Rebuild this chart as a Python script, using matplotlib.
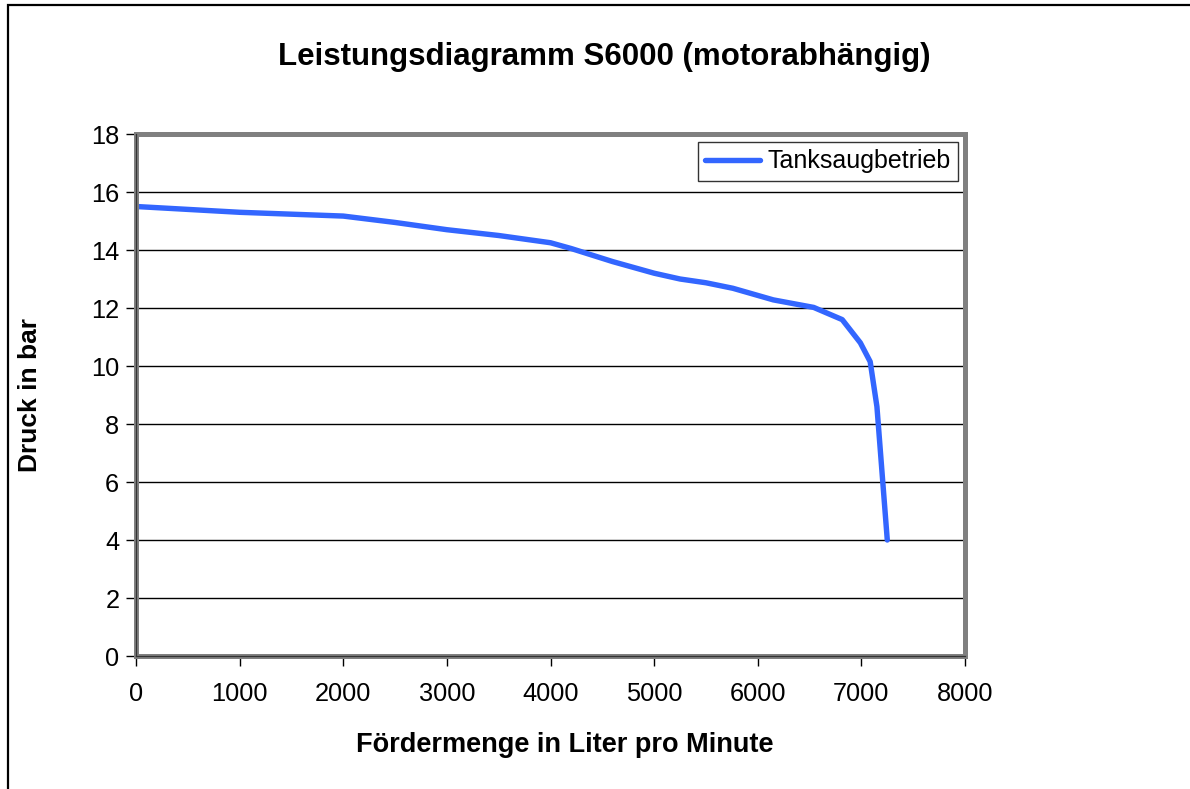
import matplotlib
matplotlib.use("Agg")
import matplotlib.pyplot as plt
from matplotlib.patches import Rectangle

plt.rcParams['font.family'] = ['Liberation Sans', 'DejaVu Sans']

# data
flow = [0, 1000, 2000, 2500, 3000, 3500, 4000, 4200, 4600, 5000, 5250, 5500,
        5760, 6150, 6540, 6815, 6990, 7085, 7150, 7250]
pressure = [15.5, 15.3, 15.17, 14.95, 14.7, 14.5, 14.25, 14.05, 13.6, 13.2, 13.0, 12.87,
            12.68, 12.28, 12.02, 11.6, 10.8, 10.15, 8.6, 4.0]
series_name = "Tanksaugbetrieb"
title = "Leistungsdiagramm S6000 (motorabhängig)"
xlabel = "Fördermenge in Liter pro Minute"
ylabel = "Druck in bar"
xticks = [0, 1000, 2000, 3000, 4000, 5000, 6000, 7000, 8000]
yticks = [0, 2, 4, 6, 8, 10, 12, 14, 16, 18]

fig = plt.figure(figsize=(11.9, 7.89), dpi=100)
W, H = 1190, 789

# outer chart frame (left/top visible, right/bottom cut)
fig.patches.append(Rectangle((7.5 / W, -0.1), 1.2, 1 - 5.5 / H + 0.1,
                             transform=fig.transFigure, fill=False,
                             edgecolor='black', linewidth=1.6))

ax = fig.add_axes([136 / W, 1 - 656 / H, (965 - 136) / W, (656 - 134) / H])
ax.plot(flow, pressure, color='#3366FF', linewidth=3.9, solid_joinstyle='round',
        solid_capstyle='round', label=series_name, zorder=3)

ax.set_xlim(0, 8000)
ax.set_ylim(0, 18)
ax.set_xticks(xticks)
ax.set_yticks(yticks)
ax.tick_params(axis='both', labelsize=18.3, direction='out', color='black', width=1.0)
ax.tick_params(axis='x', length=7, pad=12)
ax.tick_params(axis='y', length=7, pad=5)
ax.yaxis.grid(True, color='black', linewidth=1.0)
ax.set_axisbelow(True)

for s in ax.spines.values():
    s.set_color('#808080')
    s.set_linewidth(3.6)
    s.set_zorder(4)

# thin dark axis lines over the gray border (left and bottom)
ax.plot([0, 0], [0, 1], transform=ax.transAxes, color='#333333', linewidth=0.9,
        clip_on=False, zorder=5)
ax.plot([0, 1], [0, 0], transform=ax.transAxes, color='#333333', linewidth=0.9,
        clip_on=False, zorder=5)

ax.set_xlabel(xlabel, fontsize=19.5, fontweight='bold')
ax.set_ylabel(ylabel, fontsize=19.0, fontweight='bold')
ax.xaxis.set_label_coords((565 - 136) / 829, (656 - 745) / 522)
ax.yaxis.set_label_coords((30 - 136) / 829, (656 - 395) / 522)
ax.xaxis.label.set_va('center')
ax.yaxis.label.set_va('center')

leg = ax.legend(loc='upper right', bbox_to_anchor=(0.992, 0.985), fontsize=18.0,
                frameon=True, fancybox=False, shadow=False, handlelength=2.2,
                handletextpad=0.3, borderpad=0.3, borderaxespad=0.0)
leg.get_frame().set_edgecolor('black')
leg.get_frame().set_linewidth(1.0)

fig.text(604 / W, 1 - 57 / H, title, ha='center', va='center',
         fontsize=22.5, fontweight='bold')

fig.savefig('out.png', dpi=100)
